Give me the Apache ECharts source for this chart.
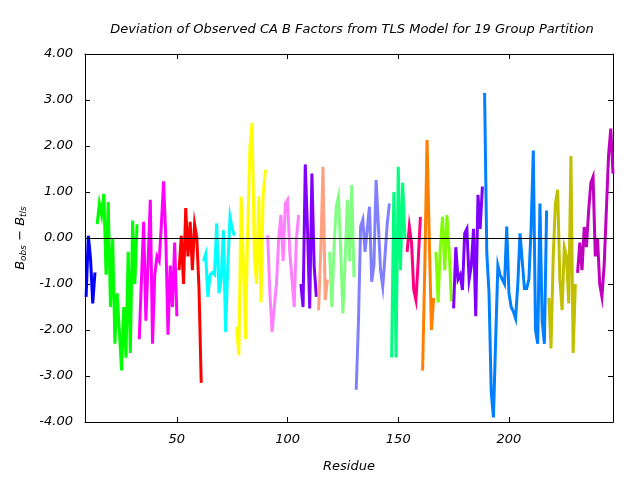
<!DOCTYPE html>
<html>
<head>
<meta charset="utf-8">
<script src="https://cdn.jsdelivr.net/npm/echarts@6/dist/echarts.min.js"></script>
<style>
  html, body { margin: 0; padding: 0; background: #fff; }
  #chart { width: 640px; height: 480px; }
</style>
</head>
<body>
<div id="chart"></div>
<script>
// first residue of each TLS group
const groupStart = [9, 14, 33, 51, 62, 77, 91, 106, 114, 119, 131, 147, 154, 161, 167, 175, 189, 218, 231]

// B_obs - B_tls per residue, one array per group
const g01 = [-1.28, 0.05, -0.45, -1.42, -0.75]
const g02 = [0.3, 0.75, 0.5, 0.96, -0.8, 0.78, -1.5, 0.0, -2.3, -1.2, -2.0, -2.88, -1.5, -2.6, -0.3, -2.5, 0.38, -1.0, 0.3]
const g03 = [-2.2, -0.9, 0.35, -1.8, -0.5, 0.83, -2.3, -0.8, -0.4, -0.5, 0.3, 1.23, 0.0, -2.1, -0.6, -1.5, -0.1, -1.7]
const g04 = [-0.7, 0.05, -1.0, 0.65, -0.4, 0.35, -0.7, 0.3, 0.0, -1.1, -3.15]
const g05 = [-0.5, -0.35, -1.28, -0.8, -0.75, -0.8, 0.32, -1.2, -0.9, 0.17, -2.04, -0.6, 0.46, 0.2, 0.05]
const g06 = [-1.93, -2.55, 0.9, -0.5, -2.2, 0.2, 2.0, 2.5, -0.4, -1.0, 0.9, -1.4, 0.97, 1.48]
const g07 = [0.06, -1.2, -2.04, -1.5, -1.0, 0.0, 0.5, -0.5, 0.75, 0.83, -0.3, -0.9, -1.5, 0.0, 0.5]
const g08 = [-1.0, -1.5, 1.6, 0.2, -1.53, 1.4, -0.6, -1.28]
const g09 = [-1.57, -0.3, 1.55, -1.35, -0.9]
const g10 = [-0.3, -1.5, -0.2, 0.68, 0.9, -0.3, -1.64, -0.5, 0.83, -0.5, 1.15, -0.85]
const g11 = [-3.3, -1.86, 0.25, 0.4, -0.3, 0.2, 0.68, -0.95, -0.6, 1.26, 0.3, -0.7, -1.06, -0.4, 0.3, 0.75]
const g12 = [-2.6, 1.0, -2.6, 1.55, -0.7, 1.2, 0.0]
const g13 = [-0.3, 0.25, -0.1, -1.13, -1.35, -0.5, 0.46]
const g14 = [-2.88, -0.6, 2.13, 0.0, -2.0, -1.3]
const g15 = [-0.3, -1.4, -0.2, 0.46, -0.7, 0.5, -0.3, -1.38]
const g16 = [-1.53, -0.2, -0.9, -0.8, -1.13, 0.1, 0.2, -0.9, -0.6, 0.2, -1.7, 0.94, 0.2, 1.12]
const g17 = [3.15, -0.33, -1.2, -3.35, -3.9, -2.2, -0.6, -0.8, -0.9, -1.0, 0.25, -1.2, -1.5, -1.6, -1.75, -1.0, 0.1, -0.5, -1.1, -1.1, -0.9, 0.2, 1.9, -2.0, -2.3, 0.75, -1.8, -2.3, 0.6]
const g18 = [-1.3, -2.4, -0.4, 0.75, 1.05, -0.9, -1.57, -0.2, -0.4, -1.42, 1.78, -2.5, -1.0]
const g19 = [-0.76, -0.1, -0.7, 0.24, -0.2, 0.6, 1.2, 1.33, -0.4, 0.0, -1.0, -1.28, -0.6, 0.6, 1.8, 2.38, 1.4]

const groups = [g01, g02, g03, g04, g05, g06, g07, g08, g09, g10, g11, g12, g13, g14, g15, g16, g17, g18, g19]

const colors = [
  '#0000ff', '#00ff00', '#ff00ff', '#ff0000', '#00ffff', '#ffff00', '#ff80ff',
  '#8000ff', '#ffa080', '#80ff80', '#8080ff', '#00ff80', '#ff0080', '#ff8000',
  '#80ff00', '#8000ff', '#0080ff', '#c0c000', '#c000c0'
]

const font = 'DejaVu Sans'

const series = groups.map((vals, i) => {
  const s = {
    type: 'line',
    showSymbol: false,
    silent: true,
    xAxisIndex: 0,
    yAxisIndex: 0,
    lineStyle: { color: colors[i], width: 3, join: 'miter' },
    data: vals.map((v, k) => [groupStart[i] + k, v])
  }
  if (i === 0) {
    s.markLine = {
      silent: true,
      symbol: 'none',
      label: { show: false },
      lineStyle: { color: '#000', width: 1, type: 'solid' },
      data: [{ yAxis: 0 }]
    }
  }
  return s
})

const myChart = echarts.init(document.getElementById('chart'), null, { renderer: 'canvas' })
const option = {
  animation: false,
  backgroundColor: '#fff',
  title: {
    text: 'Deviation of Observed CA B Factors from TLS Model for 19 Group Partition',
    left: 347,
    top: 18,
    textAlign: 'center',
    textStyle: { fontFamily: font, fontSize: 13, fontStyle: 'italic', fontWeight: 'normal', color: '#000' }
  },
  grid: { left: 85, right: 27, top: 54, bottom: 58 },
  xAxis: [
    {
      type: 'value',
      min: 8.5,
      max: 247,
      name: 'Residue',
      nameLocation: 'middle',
      nameGap: 38,
      nameTextStyle: { fontFamily: font, fontSize: 13, fontStyle: 'italic', color: '#000' },
      axisLine: { show: true, onZero: false, lineStyle: { color: '#000', width: 1 } },
      axisTick: { show: true, inside: true, length: 5, lineStyle: { color: '#000' } },
      axisLabel: {
        showMinLabel: false,
        showMaxLabel: false,
        margin: 11,
        fontFamily: font,
        fontSize: 13,
        fontStyle: 'italic',
        color: '#000'
      },
      splitLine: { show: false }
    },
    {
      type: 'value',
      position: 'top',
      min: 8.5,
      max: 247,
      axisLine: { show: true, onZero: false, lineStyle: { color: '#000', width: 1 } },
      axisTick: { show: true, inside: true, length: 5, lineStyle: { color: '#000' } },
      axisLabel: { show: false },
      splitLine: { show: false }
    }
  ],
  yAxis: [
    {
      type: 'value',
      min: -4,
      max: 4,
      interval: 1,
      name: '{b|B}{s|obs}{b| \u2212 B}{s|tls}',
      nameLocation: 'middle',
      nameGap: 46,
      nameRotate: 90,
      nameTextStyle: {
        color: '#000',
        rich: {
          b: { fontFamily: font, fontSize: 13, fontStyle: 'italic', color: '#000', lineHeight: 18 },
          s: { fontFamily: font, fontSize: 9, fontStyle: 'italic', color: '#000', padding: [7, 0, 0, 0] }
        }
      },
      axisLine: { show: true, onZero: false, lineStyle: { color: '#000', width: 1 } },
      axisTick: { show: true, inside: true, length: 5, lineStyle: { color: '#000' } },
      axisLabel: {
        margin: 12,
        fontFamily: font,
        fontSize: 13,
        fontStyle: 'italic',
        color: '#000',
        formatter: (v) => v.toFixed(2)
      },
      splitLine: { show: false }
    },
    {
      type: 'value',
      position: 'right',
      min: -4,
      max: 4,
      interval: 1,
      axisLine: { show: true, onZero: false, lineStyle: { color: '#000', width: 1 } },
      axisTick: { show: true, inside: true, length: 5, lineStyle: { color: '#000' } },
      axisLabel: { show: false },
      splitLine: { show: false }
    }
  ],
  series: series
}
myChart.setOption(option)
</script>
</body>
</html>
